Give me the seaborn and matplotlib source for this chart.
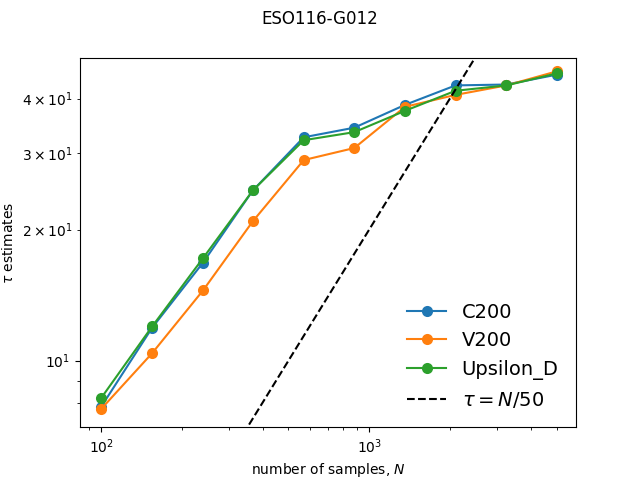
import matplotlib
matplotlib.use("Agg")
import matplotlib.pyplot as plt
import numpy as np
import pandas as pd
import seaborn as sns

N = [100, 155, 240, 368, 570, 880, 1360, 2100, 3250, 5000]
tau_c200 = [7.83, 11.9, 16.8, 24.6, 32.6, 34.3, 38.7, 42.9, 43.1, 45.4]
tau_v200 = [7.74, 10.4, 14.5, 20.9, 28.9, 30.8, 38.3, 40.8, 42.9, 46.2]
tau_ups = [8.2, 11.98, 17.2, 24.6, 32.1, 33.5, 37.5, 41.7, 42.9, 45.7]
names = ["C200", "V200", "Upsilon_D"]

df = pd.DataFrame({
    "N": N * 3,
    "tau": tau_c200 + tau_v200 + tau_ups,
    "param": sum([[n] * len(N) for n in names], []),
})

fig, ax = plt.subplots(figsize=(6.4, 4.8), dpi=100)
sns.lineplot(data=df, x="N", y="tau", hue="param", marker="o", markersize=8,
             markeredgewidth=0, palette=["#1f77b4", "#ff7f0e", "#2ca02c"], ax=ax)
nn = np.array([80, 6000])
ax.plot(nn, nn / 50.0, "--k", label=r"$\tau = N/50$")
ax.set_xscale("log")
ax.set_yscale("log")
ax.set_xlim(83.4, 5910)
ax.set_ylim(7.03, 49.7)
ax.set_xlabel("number of samples, $N$")
ax.set_ylabel(r"$\tau$ estimates")
ax.legend(fontsize=14, frameon=False, loc="lower right")
fig.suptitle("ESO116-G012")
fig.savefig("out.png", dpi=100)
